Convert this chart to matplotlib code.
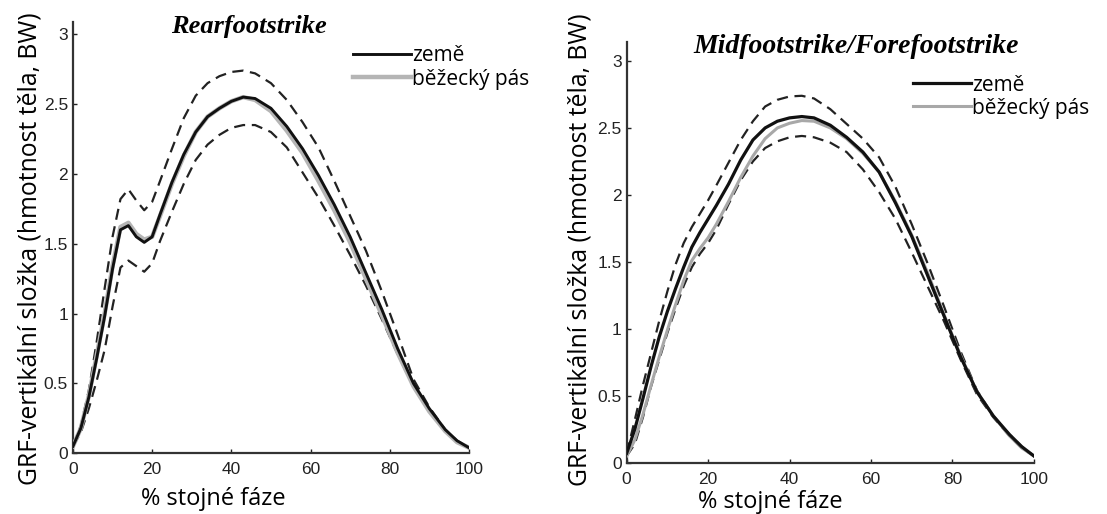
import matplotlib
matplotlib.use("Agg")
import matplotlib.pyplot as plt

# % of stance phase
x = [0, 2, 4, 6, 8, 10, 12, 14, 16, 18, 20, 22, 25, 28, 31, 34, 37, 40, 43, 46,
     50, 54, 58, 62, 66, 70, 74, 78, 82, 86, 90, 94, 97, 100]

# Rearfootstrike
rear_zeme = [0.05, 0.18, 0.40, 0.68, 0.98, 1.32, 1.60, 1.63, 1.55, 1.51, 1.55, 1.71, 1.94, 2.14, 2.30, 2.41, 2.47, 2.52, 2.55, 2.54,
             2.47, 2.34, 2.18, 1.99, 1.78, 1.55, 1.29, 1.03, 0.75, 0.50, 0.32, 0.17, 0.09, 0.04]
rear_pas = [0.05, 0.18, 0.41, 0.70, 1.00, 1.34, 1.62, 1.65, 1.57, 1.53, 1.55, 1.70, 1.93, 2.13, 2.30, 2.41, 2.47, 2.52, 2.55, 2.53,
            2.45, 2.31, 2.15, 1.95, 1.74, 1.51, 1.25, 0.99, 0.72, 0.48, 0.30, 0.16, 0.08, 0.04]
rear_upper = [0.05, 0.20, 0.45, 0.80, 1.18, 1.55, 1.82, 1.89, 1.81, 1.74, 1.80, 1.95, 2.18, 2.40, 2.56, 2.65, 2.70, 2.73, 2.74, 2.72,
              2.65, 2.53, 2.37, 2.19, 1.95, 1.70, 1.45, 1.16, 0.85, 0.53, 0.33, 0.17, 0.09, 0.04]
rear_lower = [0.05, 0.15, 0.32, 0.52, 0.74, 1.05, 1.33, 1.38, 1.34, 1.30, 1.36, 1.52, 1.73, 1.93, 2.10, 2.21, 2.28, 2.33, 2.35, 2.35,
              2.30, 2.19, 2.01, 1.83, 1.63, 1.42, 1.20, 0.96, 0.71, 0.48, 0.31, 0.16, 0.08, 0.04]

# Midfootstrike/Forefootstrike
mid_zeme = [0.07, 0.25, 0.48, 0.72, 0.94, 1.13, 1.30, 1.46, 1.61, 1.72, 1.82, 1.92, 2.08, 2.26, 2.41, 2.50, 2.55, 2.575, 2.585, 2.575,
            2.52, 2.43, 2.32, 2.17, 1.94, 1.69, 1.39, 1.09, 0.79, 0.53, 0.35, 0.21, 0.12, 0.05]
mid_pas = [0.05, 0.17, 0.36, 0.58, 0.79, 0.99, 1.18, 1.36, 1.51, 1.60, 1.68, 1.78, 1.95, 2.13, 2.29, 2.42, 2.50, 2.535, 2.555, 2.55,
           2.50, 2.42, 2.31, 2.17, 1.95, 1.70, 1.41, 1.10, 0.80, 0.53, 0.35, 0.20, 0.11, 0.05]
mid_upper = [0.07, 0.32, 0.58, 0.82, 1.06, 1.28, 1.48, 1.64, 1.76, 1.86, 1.96, 2.07, 2.24, 2.41, 2.55, 2.66, 2.71, 2.735, 2.74, 2.72,
             2.64, 2.53, 2.42, 2.28, 2.06, 1.78, 1.48, 1.16, 0.83, 0.54, 0.35, 0.21, 0.12, 0.05]
mid_lower = [0.05, 0.14, 0.34, 0.57, 0.77, 0.97, 1.15, 1.32, 1.46, 1.56, 1.64, 1.74, 1.93, 2.11, 2.25, 2.35, 2.40, 2.43, 2.44, 2.43,
             2.39, 2.32, 2.19, 2.02, 1.82, 1.57, 1.31, 1.05, 0.77, 0.51, 0.34, 0.20, 0.11, 0.05]

titles = ["Rearfootstrike", "Midfootstrike/Forefootstrike"]
labels = ["země", "běžecký pás"]
xlabel = "% stojné fáze"
ylabel = "GRF-vertikální složka (hmotnost těla, BW)"
xticks = [0, 20, 40, 60, 80, 100]
yticks = [0, 0.5, 1, 1.5, 2, 2.5, 3]
ytick_labels = ["0", "0.5", "1", "1.5", "2", "2.5", "3"]

fig = plt.figure(figsize=(11.07, 5.14), dpi=100)
ax1 = fig.add_axes([0.0659, 0.1181, 0.3577, 0.8397])
ax2 = fig.add_axes([0.5661, 0.0998, 0.3679, 0.8191])

# per panel: curves, y-limit top, title pos/size, legend anchor, xlabel pos, ylabel pos
panels = [
    (ax1, rear_zeme, rear_pas, rear_upper, rear_lower, 3.09, (0.444, 0.974), 19, (0.707, 0.945), (0.355, -0.078), (-0.078, 0.474)),
    (ax2, mid_zeme, mid_pas, mid_upper, mid_lower, 3.144, (0.563, 0.972), 20, (0.703, 0.922), (0.352, -0.066), (-0.083, 0.505)),
]

for i, (ax, zeme, pas, upper, lower, ytop, title_pos, title_size, leg_pos, xl_pos, yl_pos) in enumerate(panels):
    ax.plot(x, upper, color="#222222", lw=1.6, ls=(0, (5, 3)))
    ax.plot(x, lower, color="#222222", lw=1.6, ls=(0, (5, 3)))
    if i == 0:
        ax.plot(x, pas, color="#b5b5b5", lw=3.2, label=labels[1], zorder=3)
        ax.plot(x, zeme, color="#111111", lw=2.1, label=labels[0], zorder=4)
    else:
        ax.plot(x, zeme, color="#111111", lw=2.3, label=labels[0], zorder=4)
        ax.plot(x, pas, color="#a8a8a8", lw=2.2, label=labels[1], zorder=3)

    ax.set_xlim(0, 100)
    ax.set_ylim(0, ytop)
    ax.set_xticks(xticks)
    ax.set_yticks(yticks)
    ax.set_yticklabels(ytick_labels)
    ax.spines["top"].set_visible(False)
    ax.spines["right"].set_visible(False)
    for side in ["left", "bottom"]:
        ax.spines[side].set_linewidth(1.6)
        ax.spines[side].set_color("#333333")
    ax.tick_params(direction="in", length=3, width=1, labelsize=12.5, colors="#222222")
    ax.tick_params(axis="x", pad=6.5)
    ax.tick_params(axis="y", pad=3.5)
    for lab in ax.get_xticklabels() + ax.get_yticklabels():
        lab.set_fontfamily("Liberation Sans")

    ax.set_xlabel(xlabel, fontsize=17, family="Open Sans")
    ax.xaxis.set_label_coords(*xl_pos)
    ax.set_ylabel(ylabel, fontsize=17.8, family="Open Sans")
    ax.yaxis.set_label_coords(*yl_pos)

    ax.text(title_pos[0], title_pos[1], titles[i], transform=ax.transAxes, ha="center", va="baseline",
            fontsize=title_size, family="Liberation Serif", style="italic", weight="bold")

    handles, labs = ax.get_legend_handles_labels()
    order = [labs.index(labels[0]), labs.index(labels[1])]
    ax.legend([handles[k] for k in order], [labs[k] for k in order], loc="upper left", bbox_to_anchor=leg_pos,
              frameon=False, borderpad=0, borderaxespad=0, handlelength=2.8, handletextpad=0.05,
              labelspacing=0.1, prop={"family": "Open Sans", "size": 15})

fig.savefig("out.png", dpi=100)
